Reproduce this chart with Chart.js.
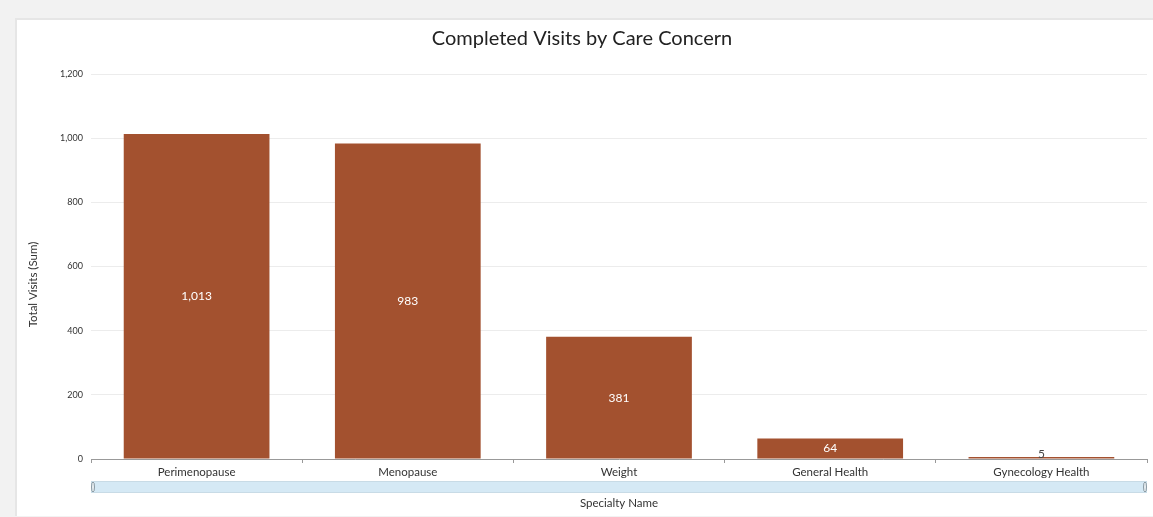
<!DOCTYPE html>
<html>
<head>
<meta charset="utf-8">
<script src="https://cdn.jsdelivr.net/npm/chart.js@4/dist/chart.umd.min.js"></script>
<style>
  html, body { margin: 0; padding: 0; background: #f2f2f2; width: 1153px; height: 517px; overflow: hidden; }
  #panel { position: absolute; left: 15px; top: 18px; width: 1138px; height: 496px; background: #fff; border-left: 2px solid #e6e6e6; border-top: 2px solid #e6e6e6; }
  #wrap { position: absolute; left: 0; top: 0; width: 1136px; height: 494px; }
</style>
</head>
<body>
<div id="panel"><div id="wrap"><canvas id="c" width="1136" height="494"></canvas></div></div>
<script>
const categories = ["Perimenopause", "Menopause", "Weight", "General Health", "Gynecology Health"];
const visits = [1013, 983, 381, 64, 5];
const yTicks = [0, 200, 400, 600, 800, 1000, 1200];

const FONT = "Lato, 'Open Sans', sans-serif";
const BAR = "#a3512f";

const decor = {
  id: 'decor',
  afterDraw(chart) {
    const ctx = chart.ctx;
    const a = chart.chartArea;
    const meta = chart.getDatasetMeta(0);
    ctx.save();
    ctx.font = "12px " + FONT;
    ctx.textAlign = 'center';
    meta.data.forEach((bar, i) => {
      const v = visits[i];
      const txt = v.toLocaleString('en-US');
      const h = bar.base - bar.y;
      if (h > 16) {
        ctx.fillStyle = '#ffffff';
        ctx.textBaseline = 'middle';
        ctx.fillText(txt, bar.x, (bar.y + bar.base) / 2);
      } else {
        ctx.fillStyle = '#444';
        ctx.textBaseline = 'bottom';
        ctx.fillText(txt, bar.x, bar.y + 3);
      }
    });
    // y title
    ctx.save();
    ctx.translate(16, (a.top + a.bottom) / 2 + 18);
    ctx.rotate(-Math.PI / 2);
    ctx.font = "11.5px " + FONT;
    ctx.fillStyle = '#333';
    ctx.textAlign = 'center';
    ctx.textBaseline = 'middle';
    ctx.fillText('Total Visits (Sum)', 0, 0);
    ctx.restore();
    // scrollbar
    const sy = a.bottom + 22, sh = 12;
    ctx.fillStyle = '#d5e9f5';
    ctx.fillRect(a.left, sy, a.right - a.left, sh);
    ctx.strokeStyle = '#c8dbe6';
    ctx.lineWidth = 1;
    ctx.strokeRect(a.left + 0.5, sy + 0.5, a.right - a.left - 1, sh - 1);
    ctx.strokeStyle = '#8a9aa3';
    ctx.fillStyle = '#e8eef2';
    [a.left + 2, a.right - 2].forEach(x => {
      ctx.beginPath();
      ctx.ellipse(x, sy + sh / 2, 1.5, 5, 0, 0, Math.PI * 2);
      ctx.fill();
      ctx.stroke();
    });
    // x title
    ctx.font = "11.5px " + FONT;
    ctx.fillStyle = '#333';
    ctx.textAlign = 'center';
    ctx.textBaseline = 'middle';
    ctx.fillText('Specialty Name', (a.left + a.right) / 2, a.bottom + 44);
    ctx.restore();
  }
};

new Chart(document.getElementById('c'), {
  type: 'bar',
  data: {
    labels: categories,
    datasets: [{
      data: visits,
      backgroundColor: BAR,
      borderWidth: 0,
      minBarLength: 2,
      categoryPercentage: 0.69,
      barPercentage: 1.0
    }]
  },
  options: {
    responsive: false,
    animation: false,
    layout: { padding: { left: 0, right: 6, top: 0, bottom: 0 } },
    plugins: {
      legend: { display: false },
      tooltip: { enabled: false },
      title: {
        display: true,
        text: 'Completed Visits by Care Concern',
        color: '#222',
        font: { family: FONT, size: 20, weight: 'normal' },
        padding: { top: 7, bottom: 23 }
      }
    },
    scales: {
      x: {
        grid: { display: true, drawOnChartArea: false, drawTicks: true, tickLength: 4, color: '#999', offset: true },
        border: { display: true, color: '#999', width: 1 },
        ticks: { color: '#333', font: { family: FONT, size: 11.5 }, padding: 2 },
        afterFit(scale) { scale.height = 55; }
      },
      y: {
        min: 0, max: 1200,
        afterBuildTicks(scale) { scale.ticks = yTicks.map(v => ({ value: v })); },
        grid: { color: '#ececec', drawTicks: false },
        border: { display: false },
        ticks: {
          color: '#333', font: { family: FONT, size: 9 }, padding: 8,
          callback: v => v.toLocaleString('en-US')
        },
        afterFit(scale) { scale.width = 74; }
      }
    }
  },
  plugins: [decor]
});
</script>
</body>
</html>
